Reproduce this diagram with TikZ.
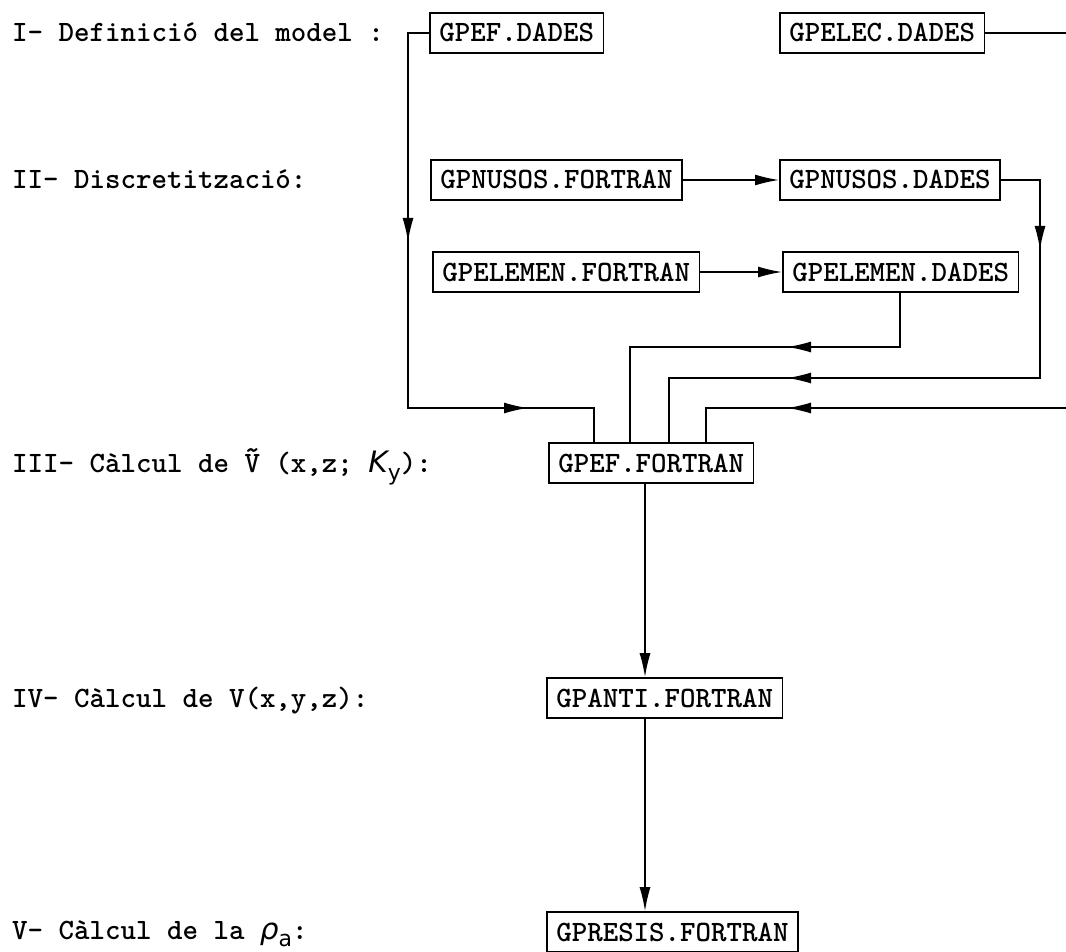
\documentclass[tikz,border=0pt]{standalone}
\usepackage{fontspec}
\usetikzlibrary{arrows.meta}
\newfontfamily\grkfont{DejaVu Sans}
\newcommand{\tildeV}{\rlap{\raisebox{13pt}{\char"007E}}V}
\newcommand{\kappaY}{{\grkfont\mdseries\itshape K}\raisebox{-8pt}{\grkfont\mdseries\fontsize{22}{22}\selectfont y}}
\newcommand{\rhoA}{{\grkfont\mdseries\itshape ρ}\raisebox{-7pt}{\grkfont\mdseries\fontsize{22}{22}\selectfont a}}
\tikzset{
  box/.style={draw, line width=1.6pt, anchor=west, font=\ttfamily\bfseries\fontsize{29.5}{30}\selectfont,
    inner xsep=9.5pt, inner ysep=0pt, minimum height=40pt, text height=18pt, text depth=0pt},
  lbl/.style={anchor=west, font=\ttfamily\bfseries\fontsize{29.5}{30}\selectfont, inner sep=0pt,
    text height=18pt, text depth=0pt},
  conn/.style={line width=1.6pt},
  tip/.style={line width=1.6pt, -{Latex[length=24pt,width=11pt]}}
}
\begin{document}
\begin{tikzpicture}[x=1pt,y=-1pt]
\useasboundingbox (0,0) rectangle (1066,952);
% labels
\node[lbl] (l1) at (12,33) {I- Definició del model :};
\node[lbl] (l2) at (12,180) {II- Discretització:};
\node[lbl] (l3) at (12,463) {III- Càlcul de \tildeV{} (x,z; \kappaY):};
\node[lbl] (l4) at (12,698) {IV- Càlcul de V(x,y,z):};
\node[lbl] (l5) at (12,930) {V- Càlcul de la \rhoA:};
% boxes
\node[box] (gpefd) at (429,33) {GPEF.DADES};
\node[box] (gpelec) at (779,33) {GPELEC.DADES};
\node[box] (nusf) at (430,180) {GPNUSOS.FORTRAN};
\node[box] (nusd) at (779,180) {GPNUSOS.DADES};
\node[box] (elef) at (432,272) {GPELEMEN.FORTRAN};
\node[box] (eled) at (782,272) {GPELEMEN.DADES};
\node[box] (fef) at (548,463) {GPEF.FORTRAN};
\node[box] (anti) at (546,698) {GPANTI.FORTRAN};
\node[box] (resis) at (546,932) {GPRESIS.FORTRAN};
% GPEF.DADES -> GPEF.FORTRAN
\coordinate (a1) at (408,33);
\coordinate (a2) at (408,408);
\coordinate (a3) at (594,408);
\coordinate (at1) at (408,242);
\coordinate (at2) at (528,408);
\draw[conn] (gpefd.west) -- (a1) -- (a2) -- (a3) -- (a3 |- fef.north);
\draw[tip] (a1) -- (at1);
\draw[tip] (a2) -- (at2);
% GPELEC.DADES -> (off page) -> GPEF.FORTRAN
\coordinate (e1) at (1066,33);
\coordinate (e2) at (1066,408);
\coordinate (e3) at (706,408);
\coordinate (et) at (787,408);
\draw[conn] (gpelec.east) -- (e1);
\draw[conn] (e2) -- (e3) -- (e3 |- fef.north);
\draw[tip] (e2) -- (et);
% GPNUSOS
\draw[tip] (nusf.east) -- (nusd.west);
\coordinate (n1) at (1040,180);
\coordinate (n2) at (1040,378);
\coordinate (n3) at (669,378);
\coordinate (nt1) at (1040,250);
\coordinate (nt2) at (787,378);
\draw[conn] (nusd.east) -- (n1) -- (n2) -- (n3) -- (n3 |- fef.north);
\draw[tip] (n1) -- (nt1);
\draw[tip] (n2) -- (nt2);
% GPELEMEN
\draw[tip] (elef.east) -- (eled.west);
\coordinate (m1) at (900,347);
\coordinate (m2) at (630,347);
\coordinate (mt) at (787,347);
\draw[conn] (eled.south -| m1) -- (m1) -- (m2) -- (m2 |- fef.north);
\draw[tip] (m1) -- (mt);
% vertical chain
\coordinate (fx) at (645,0);
\draw[tip] (fef.south -| fx) -- (anti.north -| fx);
\draw[tip] (anti.south -| fx) -- (resis.north -| fx);
\end{tikzpicture}
\end{document}
